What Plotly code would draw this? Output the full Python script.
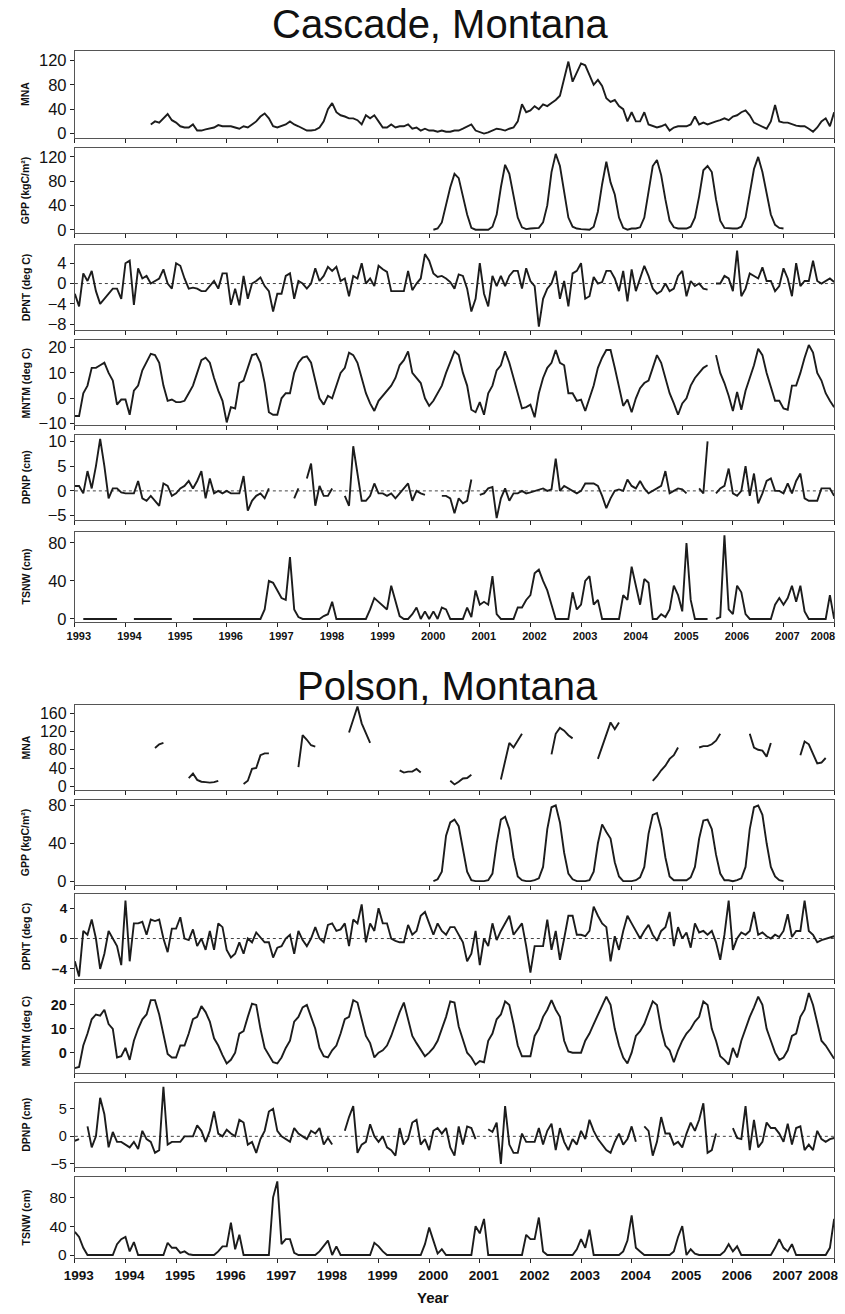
import plotly.graph_objects as go

W, H = 845, 1314
N = None

# ---------------- data: monthly values, Jan 1993 ... Jan 2008 ----------------
cascade_mna = [
    N, N, N, N, N, N, N, N, N, N, N, N,
    N, N, N, N, N, N, 15, 20, 18, 25, 32, 22,
    18, 12, 10, 10, 15, 5, 5, 7, 8, 10, 14, 12,
    12, 12, 10, 8, 12, 10, 15, 20, 28, 33, 25, 12,
    10, 12, 15, 20, 15, 12, 8, 5, 5, 6, 10, 20,
    40, 50, 35, 30, 28, 25, 25, 22, 15, 30, 25, 30,
    20, 10, 10, 15, 10, 12, 12, 15, 8, 10, 5, 8,
    5, 5, 3, 5, 3, 3, 5, 5, 8, 12, 15, 5,
    2, 0, 2, 5, 8, 7, 5, 8, 10, 20, 48, 35,
    38, 45, 40, 48, 45, 50, 55, 62, 90, 118, 85, 100,
    115, 112, 95, 80, 88, 78, 58, 52, 55, 45, 40, 20,
    35, 20, 20, 35, 15, 12, 10, 12, 15, 5, 10, 12,
    12, 12, 15, 28, 15, 18, 15, 18, 20, 22, 25, 22,
    28, 30, 35, 38, 30, 18, 15, 12, 8, 20, 47, 20,
    18, 18, 15, 13, 12, 12, 8, 3, 10, 20, 25, 12,
    35]

cascade_gpp = [N] * 84 + [
    N, 0, 2, 12, 40, 70, 92, 85, 55, 25, 3, 0,
    0, 0, 0, 5, 25, 70, 107, 92, 55, 20, 4, 1,
    2, 2, 3, 12, 40, 95, 125, 105, 60, 20, 5, 2,
    1, 0, 0, 5, 30, 75, 112, 78, 58, 20, 3, 0,
    2, 2, 4, 20, 60, 105, 115, 90, 50, 15, 4, 2,
    2, 2, 5, 20, 55, 98, 105, 95, 50, 15, 3, 2,
    2, 2, 5, 20, 60, 100, 120, 95, 60, 25, 8, 3,
    2, N, N, N, N, N, N, N, N, N, N, N,
    N]

cascade_dpnt = [
    -2, -4.5, 2, 0.5, 2.5, -1.5, -4, -3, -2, -1, -1, -3,
    4, 4.5, -4.2, 3, 1, 1.5, 0, 0.5, 1, 2.8, 0, -1,
    4, 3.5, 1, -1, -0.8, -1, -1.5, -1.5, -0.5, 0.5, -1, 2,
    2, -4.2, -1, -4.3, 1.5, -3, 0, 0.5, 1.2, -0.5, -1.5, -5.5,
    -2, -2, 1.5, 2, -3, 0.5, 0, -1, 0, 3, 0.5, 1.5,
    3.3, 2.5, 3.3, 0.5, 1, -2.5, 1.5, 1, 4, 0, 1, -0.5,
    3.5, 2.8, 2.3, -1.5, -1.5, -1.5, -1.5, 2.5, -1.3, 0, 1, 5.8,
    4.5, 2, 1.3, 1.5, 1, 0.3, -1, 1.8, 1.5, -1, -5.5, -3,
    4, -2, -4.5, 1.5, -0.5, 1.5, -0.5, 1.5, 2.5, 2.5, -1, 3,
    0.5, -0.5, -8.5, -3, -1, 0, 2.5, -3, 0.5, -4.5, 2, 2.5,
    4, -3, -2.5, 1.3, 0, 0.3, 2.5, 2.5, 1, -1.5, 2.5, -3.5,
    2.8, -1.5, 1, 3.5, 1.5, -1, -2, -1.5, 0, -1.5, -1, 1.5,
    2.5, -2.5, 0.5, -0.5, 0, -1, -1.2, N, 0, 0, 1.5, 1,
    -1.5, 6.5, -2.5, -1, 2, 1.5, 1, 3.2, 0.5, 0.5, -1.5, -0.5,
    3, 1, -2.5, 4, -0.5, 0.5, 0.5, 4.5, 0.5, 0, 0.5, 1,
    0.3]

cascade_mntm = [
    -7, -7, 2, 5, 12, 12, 13, 14, 10, 7, -2.5, -0.5,
    -0.5, -6.5, 3, 5, 11, 14, 17.5, 17, 14, 5, -1, -0.5,
    -1.5, -1.5, -1, 2, 5, 10, 15, 16, 14, 8, 3, -1,
    -9.5, -3.5, -4, 6, 7, 12, 17, 17.5, 14, 6, -5.5, -6.5,
    -6.5, 0, 2, 2, 10, 14, 16, 16.5, 14, 7, 0, -2.5,
    1, 0, 5, 10, 12, 18, 17, 14, 8, 2, -2, -5,
    -1, 1, 3, 5, 8, 13, 15, 18.5, 10, 8, 6, 0,
    -3, -1, 2, 5, 10, 14, 18.5, 17, 10, 5, -4.5, -5.5,
    -1.5, -6.5, 2, 5, 11, 13, 18.5, 14, 8, 2, -4, -3.5,
    -2.5, -7.5, 2, 8, 12, 14, 19, 14, 13, 2, 2, -1,
    -0.5, -5, 0, 5, 12, 16, 19, 19, 12, 5, -3, -0.5,
    -5.5, 0, 4, 6, 7, 12, 17, 14, 8, 2, -2, -6.5,
    -2, 0, 5, 8, 10, 12, 13, N, 17, 10, 6, 1,
    -5, 2.5, -4.5, 3, 8, 13, 19.5, 17, 10, 4, -1, -1,
    -4, -4.5, 5, 5, 10, 16, 21, 18, 10, 7, 2, -1,
    -3.5]

cascade_dpnp = [
    1, 1, -0.5, 4, 0.5, 5, 10.5, 5, -1.5, 0.5, 0.5, -0.3,
    -0.5, -0.5, -0.5, 2, -1.5, -2, -1, -2, -3, 1.5, 1, -1,
    -0.5, 0.5, 1, 2, 0.5, 2, 4, -1.5, 2.5, -0.5, 0, -0.5,
    0, -0.5, -0.5, -0.5, 3, -4, -2, -1, -0.5, -1.5, 0.5, N,
    N, N, N, N, -1.5, 0.5, N, 2.5, 5.5, -3, 1, -1,
    -1, 0.5, N, N, -1, -3, 9, 3, -2, -2, -1, 1.5,
    -0.5, -0.5, -1, -0.5, -1.5, -0.5, 0.5, 1.5, -2, 0, -0.5, -0.8,
    N, N, N, -1, -1, -1.5, -4.5, -1.5, -2.5, -2, 2.3, N,
    -0.8, -0.5, 0.5, 0.8, -5.5, -1.5, 0.5, -2, -0.5, -0.5, 0, -0.5,
    -0.3, 0, 0.3, 0.5, 0, 0.3, 6.5, 0, 1, 0.5, 0, -0.5,
    0, 1.5, 1.5, 1.5, 1, -1, -3.5, -1.5, 0, 0.3, 0, 2.3,
    1, 0.5, 2, 0.5, -0.5, 0, 0.5, 1, 4, -0.5, 0, 0.5,
    0.3, -0.5, N, N, 0.5, -0.5, 10, N, -0.5, 0.5, 1, 4.5,
    -0.5, -1, 0, 5, -1, 3.5, -2.5, -0.5, 2, 2.5, 0, 0,
    -0.5, 1.5, -0.5, 2, 3.5, -1.5, -2, -2, -2, 0.5, 0.5, 0.5,
    -1]

cascade_tsnw = [
    N, N, 0, 0, 0, 0, 0, 0, 0, 0, 0, N,
    N, N, 0, 0, 0, 0, 0, 0, 0, 0, 0, 0,
    N, N, N, N, 0, 0, 0, 0, 0, 0, 0, 0,
    0, 0, 0, 0, 0, 0, 0, 0, 0, 10, 40, 38,
    30, 22, 20, 65, 10, 2, 0, 0, 0, 0, 0, 3,
    5, 18, 0, 0, 0, 0, 0, 0, 0, 0, 10, 22,
    18, 14, 10, 35, 18, 3, 0, 0, 5, 12, 0, 8,
    0, 8, 0, 12, 10, 0, 0, 0, 0, 12, 2, 30,
    15, 18, 15, 45, 5, 0, 0, 0, 0, 12, 12, 20,
    25, 48, 52, 40, 30, 15, 0, 0, 0, 0, 28, 10,
    15, 40, 45, 15, 20, 0, 0, 0, 0, 0, 25, 20,
    55, 35, 15, 42, 38, 0, 0, 5, 2, 10, 35, 25,
    8, 80, 20, 0, 0, 0, 0, N, 0, 2, 88, 10,
    5, 35, 28, 5, 0, 0, 0, 0, 0, 0, 15, 22,
    15, 22, 35, 18, 35, 8, 0, 0, 0, 0, 0, 25,
    0]

polson_mna = [
    N, N, N, N, N, N, N, N, N, N, N, N,
    N, N, N, N, N, N, N, 84, 92, 95, N, N,
    N, N, N, 18, 28, 14, 10, 9, 8, 9, 12, N,
    N, N, N, N, 5, 12, 38, 40, 68, 72, 72, N,
    N, N, N, N, N, 42, 112, 102, 90, 87, N, N,
    N, N, N, N, N, 118, 148, 175, 138, 118, 95, N,
    N, N, N, N, N, 35, 30, 32, 32, 38, 30, N,
    N, N, N, N, N, 12, 4, 10, 17, 18, 25, N,
    N, N, N, N, N, 15, 55, 95, 85, 100, 115, N,
    N, N, N, N, N, 70, 115, 128, 122, 112, 105, N,
    N, N, N, N, 60, 87, 113, 140, 125, 140, N, N,
    N, N, N, N, N, 12, 22, 35, 45, 60, 68, 85,
    N, N, N, N, 85, 88, 88, 92, 100, 115, N, N,
    N, N, N, N, 115, 85, 80, 78, 65, 95, N, N,
    N, N, N, N, 68, 98, 92, 70, 50, 52, 62, N,
    N]

polson_gpp = [N] * 84 + [
    N, 0, 2, 10, 48, 62, 65, 58, 35, 10, 1, 0,
    0, 0, 1, 8, 40, 65, 68, 55, 25, 5, 1, 0,
    0, 1, 3, 15, 55, 78, 80, 62, 30, 8, 2, 0,
    0, 0, 1, 10, 40, 60, 52, 45, 20, 5, 0, 0,
    0, 1, 4, 15, 50, 70, 72, 55, 25, 5, 1, 1,
    1, 1, 4, 15, 45, 64, 65, 55, 28, 8, 1, 1,
    0, 1, 3, 15, 55, 78, 80, 70, 40, 15, 5, 1,
    0, N, N, N, N, N, N, N, N, N, N, N,
    N]

polson_dpnt = [
    -3, -5, 1, 0.5, 2.5, 0, -4, -2, 1, 0, -1, -3.5,
    5, -3, 2, 2, 2.2, 0.5, 2.5, 2.3, 2.5, 0, -1.8, 1.3,
    1.3, 2.8, 0, -0.2, 1.2, -1, 0, -1.5, 1, -1.5, 2, 1.5,
    -1.5, -2.5, -2, -0.5, -2, 0, -0.5, 0.8, 0.2, -0.5, -0.5, -2.5,
    -1.2, -1, 0, 0.5, -2, 1, -0.2, -1, 0, 1.5, 0, -0.5,
    1.8, 2, 1, 1.2, 2, -1, 2.5, 2, 4.5, -0.5, 2, 1,
    4, 2, 2, 0, -0.3, -0.5, -0.5, 1.8, 0.5, 1, 3, 3.5,
    2, 0.5, 2, 1, 0.5, 1.5, 1.5, 0.5, -0.5, -3, -2, 1,
    -3.5, 0, -1, 2, -0.2, 1, 2, 3, 0.5, 1.2, 2, -1,
    -4.5, -1, -1, -1, 2.5, -1.5, 1, -2.8, 0, 3, 3, 0.5,
    0.5, 0.3, 1, 4.2, 3, 2, 1.5, -3, 0.3, -1.5, 1, 3,
    2, 1, 0, 1, 1.8, 0.5, -0.3, 1, 1.5, 3.5, -1, 1.5,
    0, 0.8, -1.2, 2, 0.8, 1, 0.5, 1, -0.5, -2.8, 0.5, 5,
    -1.5, 0, 0.8, 0.5, 1, 3.5, 0.5, 0.8, 0.3, 0, 0.5, 0.2,
    1, 3.2, 0.2, 1, 1, 5, 1, 0.5, -0.5, -0.2, 0, 0.2,
    0.3]

polson_mntm = [
    -6.5, -6, 3, 8, 14, 16, 15.5, 18, 12, 10, -2, -1.5,
    2, -3, 5, 10, 14, 16, 22, 22, 16, 8, -0.5, -2,
    -2, 3, 3, 8, 14, 15, 19.5, 17, 13, 6, 3, -1,
    -4.5, -3, 0, 8, 9, 15, 20.5, 20, 10, 2, -1, -4,
    -4.5, -2, 2, 5, 13, 15, 19, 20, 15, 10, 2, -1.5,
    -2, 1, 3, 8, 14, 15, 22, 21, 14, 7, 4, -2,
    0, 1, 3, 7, 12, 17, 21, 14, 7, 4, 1, -1.5,
    0, 2, 5, 10, 15, 21.5, 21, 11, 5, 0, -2, -5,
    -3.5, -4, 5, 8, 14, 16, 21.5, 20, 12, 3, -1.5, -1.5,
    -1.5, 7, 10, 15, 18, 22, 18, 15, 5, 0.5, 0, 0,
    0, 5, 8, 12, 16, 20, 23.5, 20, 10, 3, -2, -4.5,
    0, 7, 9, 12, 17, 21.5, 20, 10, 3, 1, -4, 1,
    5, 8, 10, 13, 15, 21.5, 20, 10, 5, -1.5, -3, -5,
    2, -2, 5, 10, 15, 19, 23.5, 20, 10, 5, 0, -3,
    -2, 1, 7, 8, 15, 18, 25, 20, 12, 5, 3, 0,
    -2.5]

polson_dpnp = [
    -0.8, -0.5, N, 1.8, -2, 0, 7, 4, -2, 0.8, -1, -1,
    -1.5, -2, -1, -2.3, 1, -0.5, -1, -3, -2.5, 9, -1.5, -1,
    -1, -1, 0, 0, 0, 2, 1, -1, 1, 4.5, 0.5, 0,
    1.2, 0.5, 0, 3, 2.5, -1.5, -1, -3, -0.5, 1, 4.5, 5,
    1, 0, -0.5, -1, 1.5, 0.5, 0, -0.5, 1, 0.5, 1.5, -1.5,
    -0.3, -1.5, N, N, 1, 3.5, 5.5, -3, -1.5, -1, 2.2, 0,
    -1, 0, -2, -2.5, -3.5, 1.5, -1.5, -0.5, 2.5, 3, -1.5, -0.5,
    -2.5, 1, 1.5, 0.5, 1.5, -2, -3.5, 1.8, -1.5, 1.8, 1.5, -0.5,
    N, N, 1.3, 0.8, 2.5, -5, 5.5, -1.5, -3, -3, 0.5, -1,
    -1, -1, 1.5, -1.5, 1, 2.3, -2.5, 1.5, -1, -2.5, -0.5, -1.5,
    1, -0.5, 3, 1, -0.5, -1.5, -2.5, -3, -1, 0.5, -1.5, -0.5,
    1.8, -1, N, 1.8, 1, -3.5, -1, 3.5, 0.5, 0.5, -1.5, -1,
    -2, 0.5, 2.5, 1, 3, 6, -3, -2.5, 0.5, N, N, N,
    1.5, -0.3, -0.5, 5.5, -2.5, 3, -2, -1, 2.5, 1.5, 1.5, 0.5,
    -1, 2.3, -1.5, 1.5, 1.8, -2.5, -1.5, -2.5, 1, -0.5, -1, -0.5,
    -0.3]

polson_tsnw = [
    32, 25, 10, 0, 0, 0, 0, 0, 0, 0, 15, 22,
    25, 5, 18, 0, 0, 0, 0, 0, 0, 0, 17, 10,
    10, 3, 5, 1, 0, 0, 0, 0, 0, 0, 5, 12,
    12, 45, 8, 28, 0, 0, 0, 0, 0, 0, 0, 80,
    102, 15, 22, 22, 3, 0, 0, 0, 0, 0, 5, 12,
    20, 0, 12, 0, 0, 0, 0, 0, 0, 0, 0, 17,
    12, 5, 0, 0, 0, 0, 0, 0, 0, 0, 0, 15,
    38, 20, 2, 8, 0, 0, 0, 0, 0, 0, 0, 40,
    30, 50, 0, 0, 0, 0, 0, 0, 0, 0, 0, 28,
    22, 22, 52, 5, 0, 0, 0, 0, 0, 0, 0, 8,
    22, 10, 35, 0, 0, 0, 0, 0, 0, 0, 5, 20,
    55, 10, 5, 0, 0, 0, 0, 0, 0, 0, 5, 25,
    40, 0, 8, 2, 0, 0, 0, 0, 0, 0, 5, 15,
    5, 12, 0, 0, 0, 0, 0, 0, 0, 0, 10, 22,
    10, 5, 15, 0, 0, 0, 0, 0, 0, 0, 0, 10,
    50]

years = list(range(1993, 2009))
year_labels = [str(y) for y in years]
last_label_pos = 2007.78   # the original squeezes "2008" inside the right edge
n_months = 181
months = [1993 + i / 12 for i in range(n_months)]

def fit(v):
    return (list(v) + [None] * n_months)[:n_months]

SANS = "Liberation Sans, Arial, sans-serif"

# (series, axis title, y range, y ticks, tick font size, tick bold, zero line, box top px, box bottom px)
panels = [
    (cascade_mna, "MNA", [-7, 136], [0, 40, 80, 120], 16.5, False, False, 47, 135),
    (cascade_gpp, "GPP (kgC/m²)", [-5.5, 135], [0, 40, 80, 120], 16.5, False, False, 145, 231),
    (cascade_dpnt, "DPNT (deg C)", [-9.2, 7.6], [-8, -4, 0, 4], 16.5, False, True, 243, 329),
    (cascade_mntm, "MNTM (deg C)", [-10.7, 22.9], [-10, 0, 10, 20], 16.5, False, False, 339, 425),
    (cascade_dpnp, "DPNP (cm)", [-5.8, 11.2], [-5, 0, 5, 10], 16.5, False, True, 435, 520),
    (cascade_tsnw, "TSNW (cm)", [-3, 92], [0, 40, 80], 16.5, False, False, 532, 623),
    (polson_mna, "MNA", [-9, 178], [0, 40, 80, 120, 160], 16, False, False, 707, 793),
    (polson_gpp, "GPP (kgC/m²)", [-3.6, 85.4], [0, 40, 80], 16.5, False, False, 803, 888),
    (polson_dpnt, "DPNT (deg C)", [-5.3, 5.8], [-4, 0, 4], 13.5, True, True, 898, 983),
    (polson_mntm, "MNTM (deg C)", [-8.5, 26.8], [0, 10, 20], 14.5, True, False, 993, 1078),
    (polson_dpnp, "DPNP (cm)", [-5.6, 9.7], [-5, 0, 5], 14.5, False, True, 1088, 1173),
    (polson_tsnw, "TSNW (cm)", [-4.7, 108], [0, 40, 80], 15.5, False, False, 1183, 1265),
]

fig = go.Figure()
layout = dict(width=W, height=H, margin=dict(l=0, r=0, t=0, b=0),
              paper_bgcolor="white", plot_bgcolor="white", showlegend=False)
annotations = []
shapes = []
x_left, x_right = 65, 838
xdom = [x_left / W, x_right / W]
XFS = {6: 11, 12: 13.5}

for k, (series, ytitle, yr, yt, tfs, tbold, zline, top, bot) in enumerate(panels, start=1):
    sfx = "" if k == 1 else str(k)
    fig.add_trace(go.Scatter(x=months, y=fit(series), mode="lines",
                             line=dict(color="#1c1c1c", width=1.9),
                             connectgaps=False, hoverinfo="skip",
                             xaxis="x" + sfx, yaxis="y" + sfx))
    is_bottom = k in (6, 12)
    layout["xaxis" + sfx] = dict(
        domain=xdom, anchor="y" + sfx, range=[1993, 2008],
        tickmode="array", tickvals=years,
        ticktext=year_labels[:-1] + [""],
        showticklabels=is_bottom, ticks="outside", ticklen=4, tickwidth=1,
        tickcolor="#222", showline=True, mirror=True, linecolor="#555",
        linewidth=1, showgrid=False, zeroline=False,
        ticklabelshift=4,
        tickfont=dict(family=SANS, size=XFS.get(k, 12), color="#111", weight="bold"),
    )
    layout["yaxis" + sfx] = dict(
        domain=[1 - bot / H, 1 - top / H], anchor="x" + sfx, range=yr,
        tickmode="array", tickvals=yt, ticks="outside", ticklen=4, tickwidth=1,
        tickcolor="#222", showline=True, mirror=True, linecolor="#555",
        linewidth=1, showgrid=False, zeroline=False,
        tickfont=dict(family=SANS, size=tfs, color="#111",
                      weight="bold" if tbold else "normal"),
    )
    annotations.append(dict(text=ytitle, xref="paper", yref="paper",
                            x=15 / W, y=1 - (top + bot) / 2 / H,
                            xanchor="center", yanchor="middle", textangle=-90,
                            showarrow=False,
                            font=dict(family=SANS, size=10.5, color="#111", weight="bold")))
    if zline:
        shapes.append(dict(type="line", xref="x" + sfx + " domain", yref="y" + sfx,
                           x0=0, x1=1, y0=0, y1=0, layer="below",
                           line=dict(color="#444", width=1, dash="dot")))

# extra label-only axes carrying the squeezed "2008" label, so it sits on the same line
for extra, base in ((13, 6), (14, 12)):
    fig.add_trace(go.Scatter(x=[None], y=[None], mode="lines", hoverinfo="skip",
                             xaxis="x%d" % extra, yaxis="y%d" % base))
    layout["xaxis%d" % extra] = dict(
        overlaying="x%d" % base, anchor="y%d" % base, domain=xdom, range=[1993, 2008],
        tickmode="array", tickvals=[last_label_pos], ticktext=["2008"],
        ticks="outside", ticklen=4, tickcolor="rgba(0,0,0,0)",
        showline=False, showgrid=False, zeroline=False,
        tickfont=dict(family=SANS, size=XFS[base], color="#111", weight="bold"),
    )

# titles
annotations.append(dict(text="Cascade, Montana", xref="paper", yref="paper",
                        x=437 / W, y=1 - 20 / H, xanchor="center", yanchor="middle",
                        showarrow=False, font=dict(family=SANS, size=40, color="#111")))
annotations.append(dict(text="Polson, Montana", xref="paper", yref="paper",
                        x=444 / W, y=1 - 688 / H, xanchor="center", yanchor="middle",
                        showarrow=False, font=dict(family=SANS, size=40, color="#111")))
annotations.append(dict(text="Year", xref="paper", yref="paper",
                        x=430 / W, y=1 - 1304 / H, xanchor="center", yanchor="middle",
                        showarrow=False,
                        font=dict(family=SANS, size=15, color="#111", weight="bold")))

layout["annotations"] = annotations
layout["shapes"] = shapes
fig.update_layout(**layout)
fig.write_html("out.html")
